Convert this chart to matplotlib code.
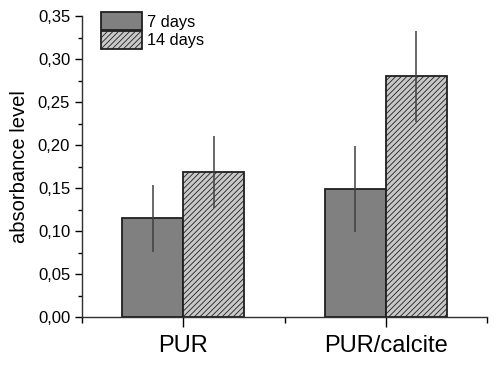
import matplotlib
matplotlib.use('Agg')
import matplotlib.pyplot as plt
import numpy as np
from matplotlib.ticker import MultipleLocator, FuncFormatter, FixedLocator

plt.rcParams['font.family'] = ['Liberation Sans', 'DejaVu Sans']
plt.rcParams['hatch.color'] = '#6a6a6a'
plt.rcParams['hatch.linewidth'] = 0.6

# Data
categories = ['PUR', 'PUR/calcite']
days7 = [0.115, 0.149]
days7_err = [0.039, 0.050]
days14 = [0.169, 0.280]
days14_err = [0.042, 0.053]

fig = plt.figure(figsize=(5.0, 3.67), dpi=100)
ax = fig.add_axes([0.164, 0.136, 0.810, 0.820])

x = np.arange(1, len(categories) + 1)
w = 0.3
ax.bar(x - w/2, days7, w, color='#808080', edgecolor='#202020', linewidth=1.3, label='7 days')
ax.bar(x + w/2, days14, w, color='#c8c8c8', edgecolor='#202020', linewidth=1.3, hatch='//////', label='14 days')
ax.errorbar(x - w/2, days7, yerr=days7_err, fmt='none', ecolor='#404040', elinewidth=1.1, capsize=0)
ax.errorbar(x + w/2, days14, yerr=days14_err, fmt='none', ecolor='#404040', elinewidth=1.1, capsize=0)

ax.set_xlim(0.5, 2.5)
ax.set_ylim(0, 0.35)
ax.set_xticks(x)
ax.set_xticklabels(categories, fontsize=17)
ax.xaxis.set_minor_locator(FixedLocator([0.5, 1.5, 2.5]))
ax.yaxis.set_major_locator(MultipleLocator(0.05))
ax.yaxis.set_minor_locator(MultipleLocator(0.025))
ax.yaxis.set_major_formatter(FuncFormatter(lambda v, p: f'{v:.2f}'.replace('.', ',')))
ax.tick_params(axis='y', labelsize=12, direction='out', length=5, width=1)
ax.tick_params(axis='y', which='minor', length=3, width=1)
ax.tick_params(axis='x', direction='out', length=7, width=1, pad=6)
ax.tick_params(axis='x', which='minor', length=4, width=1)
ax.set_ylabel('absorbance level', fontsize=14.5, labelpad=6)

for s in ['top', 'right']:
    ax.spines[s].set_visible(False)
for s in ['left', 'bottom']:
    ax.spines[s].set_linewidth(1.0)
    ax.spines[s].set_color('#303030')

ax.legend(loc='upper left', bbox_to_anchor=(0.03, 1.035), frameon=False, fontsize=11.8,
          handlelength=2.5, handleheight=1.3, handletextpad=0.3, labelspacing=0.05,
          borderaxespad=0)

fig.savefig('out.png', dpi=100)
